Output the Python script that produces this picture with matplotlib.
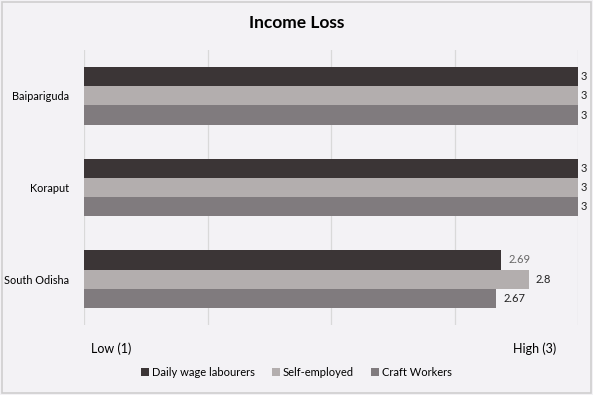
import numpy as np
import matplotlib.pyplot as plt
from matplotlib.patches import Rectangle

regions = ['Baipariguda', 'Koraput', 'South Odisha']
series = ['Daily wage labourers', 'Self-employed', 'Craft Workers']
daily_wage = [3, 3, 2.69]
self_employed = [3, 3, 2.8]
craft_workers = [3, 3, 2.67]
value_labels = [['3', '3', '2.69'], ['3', '3', '2.8'], ['3', '3', '2.67']]

colors = ['#3b3536', '#b3aeae', '#807b7e']
bg = '#f3f2f5'

plt.rcParams['font.family'] = ['Lato', 'DejaVu Sans']

fig = plt.figure(figsize=(5.93, 3.95), dpi=100, facecolor=bg)
fig.patches.append(Rectangle((0.004, 0.004), 0.992, 0.99, transform=fig.transFigure,
                             fill=False, edgecolor='#cfcfcf', lw=1.2))
ax = fig.add_axes([0.1417, 0.1772, 0.833, 0.6962])
ax.set_facecolor(bg)

y = np.arange(len(regions))
h = 0.21
data = [daily_wage, self_employed, craft_workers]
for i, vals in enumerate(data):
    pos = y + (i - 1) * h
    ax.barh(pos, np.array(vals) - 1, left=1, height=h, color=colors[i], label=series[i], zorder=2)
    for p, v, t in zip(pos, vals, value_labels[i]):
        c = '#666666' if (i == 0 and v < 3) else '#222222'
        off = 0.012 if v >= 3 else 0.03
        ax.text(v + off, p, t, va='center', ha='left', fontsize=8, color=c)

ax.set_xlim(1, 3)
ax.set_ylim(2.5, -0.5)
ax.set_xticks([1, 1.5, 2, 2.5, 3])
ax.set_xticklabels([])
ax.grid(axis='x', color='#d9d9d9', lw=0.9, zorder=0)
ax.set_yticks(y)
ax.set_yticklabels(regions, fontsize=7.8)
ax.tick_params(length=0, pad=11)
for s in ax.spines.values():
    s.set_visible(False)

fig.text(111 / 593, 1 - 349 / 395, 'Low (1)', ha='center', va='center', fontsize=9)
fig.text(535 / 593, 1 - 349 / 395, 'High (3)', ha='center', va='center', fontsize=9)
fig.text(0.5, 1 - 23 / 395, 'Income Loss', ha='center', va='center', fontsize=12.5, fontweight='bold')

fig.legend(loc='center', bbox_to_anchor=(0.5, 1 - 372 / 395), ncol=3, frameon=False,
           fontsize=8, handlelength=0.7, handleheight=0.7, handletextpad=0.3, columnspacing=1.5)

fig.savefig('out.png', dpi=100, facecolor=bg)
